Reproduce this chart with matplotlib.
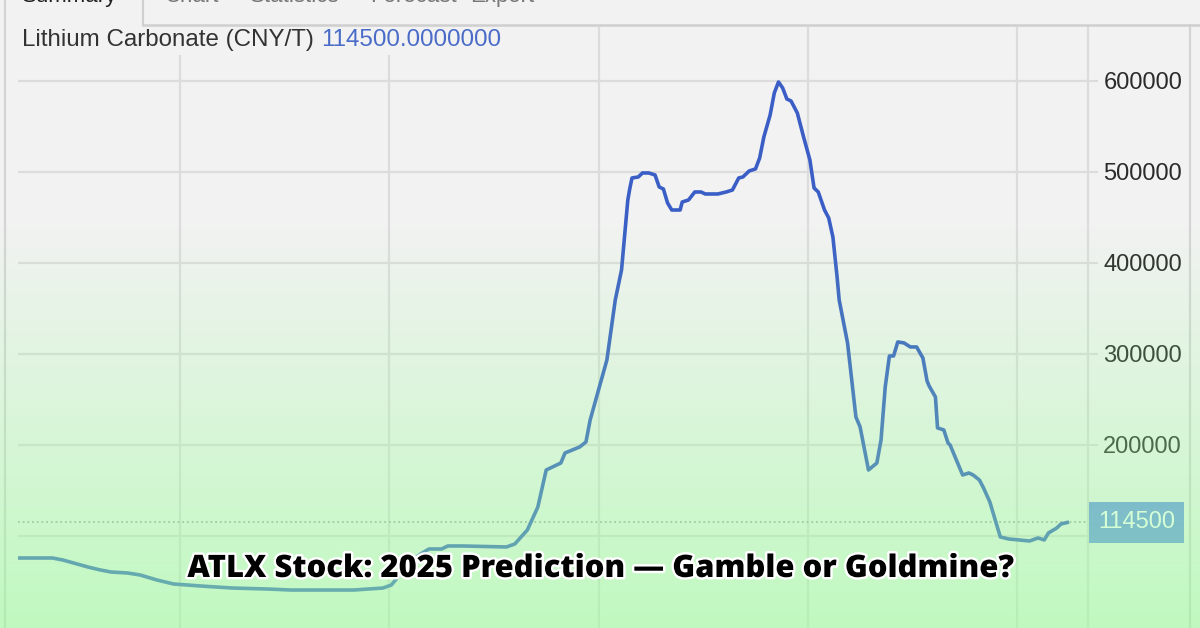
import numpy as np
import matplotlib
matplotlib.use("Agg")
import matplotlib.pyplot as plt
from matplotlib import patheffects as pe
from matplotlib.lines import Line2D

# ---------------- data (decimal year, CNY/T) ----------------
years = [2019.23, 2019.39, 2019.44, 2019.56, 2019.62, 2019.67, 2019.75, 2019.81, 2019.89, 2019.97,
         2020.10, 2020.25, 2020.42, 2020.53, 2020.67, 2020.83, 2020.97, 2021.01, 2021.05, 2021.10,
         2021.15, 2021.19, 2021.25, 2021.28, 2021.35, 2021.56, 2021.60, 2021.66, 2021.71, 2021.75,
         2021.78, 2021.82, 2021.84, 2021.91, 2021.94, 2021.96, 2022.00, 2022.04, 2022.08, 2022.11,
         2022.14, 2022.15, 2022.16, 2022.19, 2022.21, 2022.24, 2022.27, 2022.29, 2022.31, 2022.33,
         2022.35, 2022.39, 2022.40, 2022.43, 2022.46, 2022.49, 2022.51, 2022.57, 2022.61, 2022.64,
         2022.67, 2022.69, 2022.72, 2022.75, 2022.77, 2022.79, 2022.82, 2022.84, 2022.86, 2022.88,
         2022.90, 2022.92, 2022.95, 2022.98, 2023.01, 2023.03, 2023.05, 2023.08, 2023.10, 2023.12,
         2023.14, 2023.15, 2023.19, 2023.23, 2023.25, 2023.29, 2023.33, 2023.35, 2023.37, 2023.39,
         2023.41, 2023.43, 2023.46, 2023.49, 2023.52, 2023.55, 2023.57, 2023.58, 2023.61, 2023.62,
         2023.65, 2023.67, 2023.68, 2023.71, 2023.74, 2023.77, 2023.79, 2023.82, 2023.84, 2023.87,
         2023.92, 2023.96, 2024.06, 2024.10, 2024.13, 2024.15, 2024.19, 2024.21, 2024.24]
prices = [75500, 75500, 73300, 65600, 62300, 60100, 59000, 56800, 51300, 46900,
          44700, 42500, 41400, 40300, 40300, 40300, 42500, 45800, 56800, 71100,
          79900, 85400, 85400, 88700, 88700, 87600, 90900, 106300, 131500, 172200,
          175500, 179900, 190900, 197500, 203000, 227100, 260100, 293100, 359000, 392000,
          468900, 482100, 493100, 494200, 498600, 498600, 496400, 483200, 481000, 465600,
          457900, 457900, 466700, 468900, 477700, 477700, 475500, 475500, 477700, 479900,
          493100, 494200, 500800, 503000, 515100, 538100, 562300, 586500, 598600, 592000,
          579900, 577700, 564500, 538100, 512900, 482100, 477700, 457900, 449100, 428200,
          384300, 359000, 311800, 230400, 219500, 172200, 179900, 205200, 263400, 297500,
          297500, 312900, 311800, 307400, 307400, 295300, 270000, 264500, 252400, 218400,
          216200, 201900, 199700, 183200, 166700, 168900, 166700, 161200, 152400, 137000,
          98600, 96400, 94200, 97500, 95300, 103000, 108500, 112900, 114500]

y_ticks = [100000, 200000, 300000, 400000, 500000, 600000]
y_tick_labels = ["", "200000", "300000", "400000", "500000", "600000"]
x_grid_years = [2020, 2021, 2022, 2023, 2024]
last_price = 114500
series_name = "Lithium Carbonate (CNY/T)"
last_value_text = "114500.0000000"
title = "ATLX Stock: 2025 Prediction \u2014 Gamble or Goldmine?"
tabs = ["Summary", "Chart", "Statistics", "Forecast", "Export"]

# ---------------- figure ----------------
W, H = 1200, 628
BG = "#f2f2f2"
GRID = "#dcdcdc"
LINE = "#3a5ec6"

plt.rcParams["font.family"] = ["Liberation Sans", "DejaVu Sans"]
fig = plt.figure(figsize=(W / 100, H / 100), dpi=100, facecolor=BG)

def fx(px):
    return px / W

def fy(py):
    return 1 - py / H

ax_left, ax_right, ax_top, ax_bottom = 18, 1088, 27, 628
ax = fig.add_axes([fx(ax_left), fy(ax_bottom), fx(ax_right - ax_left), (ax_bottom - ax_top) / H])
ax.set_facecolor(BG)
ax.set_xlim(2019.226, 2024.339)
ax.set_ylim(-1434, 659000)

ax.set_xticks(x_grid_years)
ax.set_xticklabels([])
ax.tick_params(axis="x", length=0)
ax.set_yticks(y_ticks)
ax.set_yticklabels(y_tick_labels)
ax.yaxis.tick_right()
ax.tick_params(axis="y", length=7, width=1.5, color=GRID, pad=4,
               labelsize=17, labelcolor="#2b2b2b")
ax.grid(True, color=GRID, lw=1.6)
ax.set_axisbelow(True)
for s in ["top", "bottom", "left"]:
    ax.spines[s].set_visible(False)
ax.spines["right"].set_color(GRID)
ax.spines["right"].set_linewidth(1.6)

ax.axhline(last_price, color="#a8a8a8", lw=1.3, ls=(0, (1, 1.6)), zorder=1)
ax.plot(years, prices, color=LINE, lw=2.6, solid_joinstyle="round", zorder=3)

# last value label on the axis
ax.text(1.0093, last_price, str(last_price), transform=ax.get_yaxis_transform(),
        ha="left", va="center", fontsize=17, color="white", clip_on=False, zorder=6,
        bbox=dict(boxstyle="square,pad=0.4", fc="#6f94ea", ec="none"))

# header text
t1 = ax.text(0.004, 0.978, series_name + " ", transform=ax.transAxes, ha="left", va="center",
             fontsize=17.4, color="#333333", zorder=6,
             bbox=dict(boxstyle="square,pad=0.15", fc=BG, ec="none"))
ax.annotate(last_value_text, xy=(1, 0.5), xycoords=t1, ha="left", va="center",
            fontsize=17.4, color="#4a6cc8", zorder=6,
            bbox=dict(boxstyle="square,pad=0.15", fc=BG, ec="none"))

# frame / tab bar lines
fig.add_artist(Line2D([fx(4.5), fx(4.5)], [0, 1], color="#d4d4d4", lw=1.6))
fig.add_artist(Line2D([fx(1190), fx(1190)], [0, fy(25)], color="#d4d4d4", lw=1.6))
fig.add_artist(Line2D([fx(143), 1], [fy(25), fy(25)], color="#cfcfcf", lw=1.8))
fig.add_artist(Line2D([fx(143), fx(143)], [fy(25), 1], color="#cfcfcf", lw=1.6))
tab_x = [22, 165, 250, 370, 470]
for i, (tx, name) in enumerate(zip(tab_x, tabs)):
    fig.text(fx(tx), fy(2), name, ha="left", va="baseline", fontsize=16,
             color="#222222" if i == 0 else "#777777")

# green gradient overlay
ov = fig.add_axes([0, 0, 1, 1], zorder=5)
ov.set_axis_off()
rows = np.arange(H)
alpha = np.clip((rows - 220) / (H - 220), 0, 1) * 0.55
grad = np.zeros((H, 1, 4))
grad[..., 0] = 150 / 255
grad[..., 1] = 1.0
grad[..., 2] = 150 / 255
grad[:, 0, 3] = alpha
ov.imshow(grad, aspect="auto", extent=[0, 1, 0, 1], origin="upper")
ov.set_xlim(0, 1)
ov.set_ylim(0, 1)

# title
fig.text(0.5, fy(569), title, ha="center", va="center", fontsize=22.3,
         fontfamily=["Open Sans", "DejaVu Sans"], fontweight=800, color="black", zorder=10,
         path_effects=[pe.withStroke(linewidth=3.5, foreground="white")])

fig.savefig("out.png", dpi=100, facecolor=BG)
